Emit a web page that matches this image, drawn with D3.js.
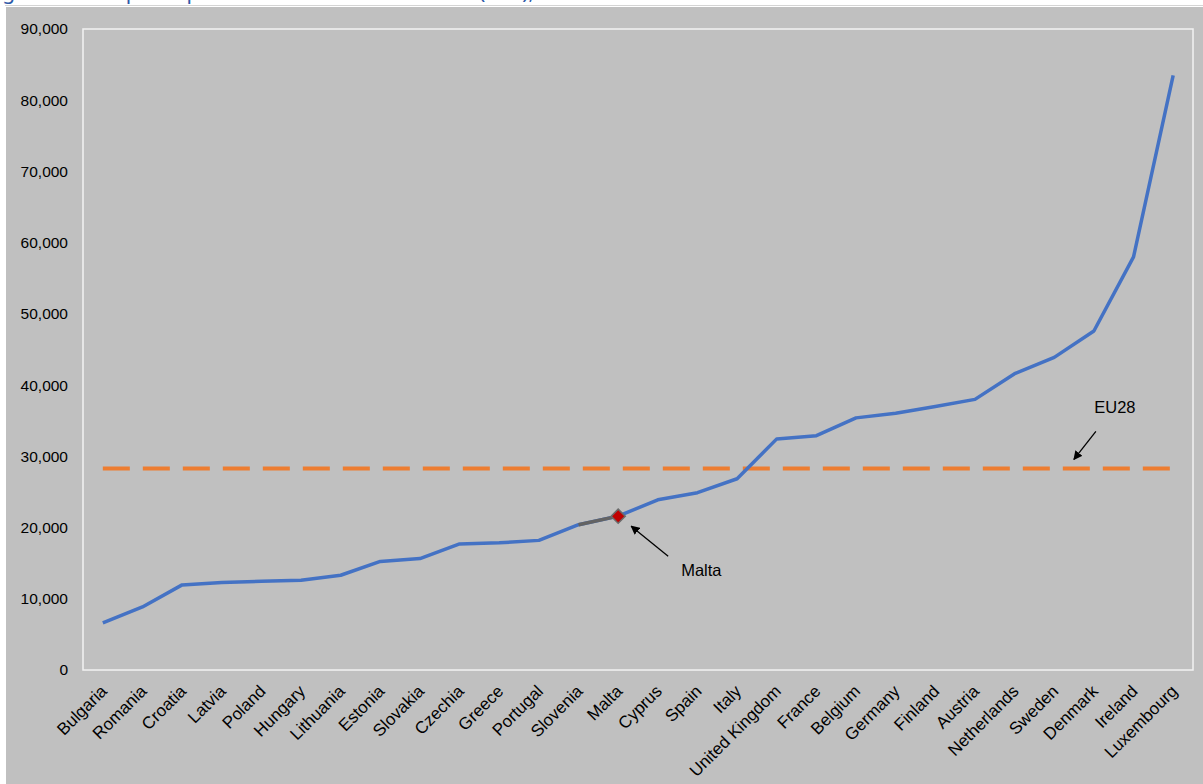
<!DOCTYPE html>
<html>
<head>
<meta charset="utf-8">
<script src="https://cdn.jsdelivr.net/npm/d3@7"></script>
<style>
  html, body { margin: 0; padding: 0; background: #ffffff; }
  svg { display: block; }
</style>
</head>
<body>
<svg id="chart" width="1203" height="784"></svg>
<script>
// GDP per capita (PPS) by Member State, ranked low to high
const countries = ["Bulgaria","Romania","Croatia","Latvia","Poland","Hungary","Lithuania","Estonia",
  "Slovakia","Czechia","Greece","Portugal","Slovenia","Malta","Cyprus","Spain","Italy",
  "United Kingdom","France","Belgium","Germany","Finland","Austria","Netherlands","Sweden",
  "Denmark","Ireland","Luxembourg"];
const gdpPerCapita = [6600, 8850, 11950, 12300, 12450, 12600, 13300, 15250,
  15650, 17700, 17850, 18200, 20400, 21600, 23900, 24900, 26850,
  32450, 32900, 35400, 36050, 37000, 38000, 41600, 43900,
  47600, 58000, 83500];
const eu28Average = 28300;
const yTicks = [0, 10000, 20000, 30000, 40000, 50000, 60000, 70000, 80000, 90000];
const highlighted = "Malta";
const titleText = "Figure 2: GDP per capita in the EU Member States (PPS), 2018";

const svg = d3.select("#chart");
const W = 1203, H = 784;
const plot = { left: 83, right: 1193, top: 29, bottom: 670 };
const font = "'Liberation Sans', Arial, sans-serif";

// page title, running above the top of the frame
svg.append("text")
  .attr("x", -14).attr("y", -1.5)
  .attr("font-family", "'Noto Sans', sans-serif")
  .attr("font-size", 21)
  .attr("fill", "#2f5aa8")
  .text(titleText);

svg.append("line")
  .attr("x1", 5).attr("x2", W).attr("y1", 5.5).attr("y2", 5.5)
  .attr("stroke", "#d4d4d4").attr("stroke-width", 1);

// chart background
svg.append("rect")
  .attr("x", 6).attr("y", 7).attr("width", W - 6).attr("height", H - 7)
  .attr("fill", "#c0c0c0");

svg.append("rect")
  .attr("x", plot.left).attr("y", plot.top)
  .attr("width", plot.right - plot.left).attr("height", plot.bottom - plot.top)
  .attr("fill", "#c0c0c0").attr("stroke", "#f2f2f2").attr("stroke-width", 1.5);

const x = d3.scaleBand().domain(countries).range([plot.left, plot.right]).padding(0);
const cx = c => x(c) + x.bandwidth() / 2;
const y = d3.scaleLinear().domain([0, 90000]).range([plot.bottom, plot.top]);

// y axis
const yAxis = svg.append("g")
  .attr("transform", `translate(${plot.left},0)`)
  .call(d3.axisLeft(y).tickValues(yTicks).tickSize(0).tickPadding(15).tickFormat(d3.format(",")));
yAxis.select(".domain").remove();
yAxis.selectAll("text")
  .attr("font-family", font).attr("font-size", 15.5).attr("fill", "#000");

// x axis labels, rotated
svg.append("g").selectAll("text")
  .data(countries)
  .join("text")
  .attr("transform", c => `translate(${cx(c) + 1},${plot.bottom + 18}) rotate(-45)`)
  .attr("text-anchor", "end")
  .attr("dy", "0.35em")
  .attr("font-family", font).attr("font-size", 17).attr("fill", "#000")
  .text(c => c);

// EU28 reference line
svg.append("line")
  .attr("x1", cx(countries[0])).attr("x2", cx(countries[countries.length - 1]))
  .attr("y1", y(eu28Average)).attr("y2", y(eu28Average))
  .attr("stroke", "#ed7d31").attr("stroke-width", 4)
  .attr("stroke-dasharray", "27,13");

const data = countries.map((c, i) => ({ c, v: gdpPerCapita[i] }));
const line = d3.line().x(d => cx(d.c)).y(d => y(d.v));

svg.append("path")
  .datum(data)
  .attr("d", line)
  .attr("fill", "none")
  .attr("stroke", "#4472c4").attr("stroke-width", 3.5)
  .attr("stroke-linejoin", "round");

// segment leading into the highlighted country
const hi = countries.indexOf(highlighted);
svg.append("path")
  .datum(data.slice(hi - 1, hi + 1))
  .attr("d", line)
  .attr("fill", "none")
  .attr("stroke", "#636363").attr("stroke-width", 3.5);

svg.append("path")
  .attr("d", d3.symbol().type(d3.symbolSquare).size(100)())
  .attr("transform", `translate(${cx(highlighted)},${y(gdpPerCapita[hi])}) rotate(45)`)
  .attr("fill", "#c00000").attr("stroke", "#6b6b6b").attr("stroke-width", 1.5);

// arrow heads
svg.append("defs").append("marker")
  .attr("id", "arrow")
  .attr("viewBox", "0 0 10 10").attr("refX", 9).attr("refY", 5)
  .attr("markerWidth", 9).attr("markerHeight", 9)
  .attr("markerUnits", "userSpaceOnUse")
  .attr("orient", "auto")
  .append("path").attr("d", "M0,0 L10,5 L0,10 z").attr("fill", "#000");

// Malta annotation
const mx = cx(highlighted), my = y(gdpPerCapita[hi]);
svg.append("line")
  .attr("x1", mx + 50).attr("y1", my + 40)
  .attr("x2", mx + 13).attr("y2", my + 10)
  .attr("stroke", "#000").attr("stroke-width", 1.3)
  .attr("marker-end", "url(#arrow)");
svg.append("text")
  .attr("x", mx + 63).attr("y", my + 54)
  .attr("dy", "0.35em")
  .attr("font-family", font).attr("font-size", 16.5).attr("fill", "#000")
  .text("Malta");

// EU28 annotation
const ex = cx("Denmark"), ey = y(eu28Average);
svg.append("line")
  .attr("x1", ex + 2).attr("y1", ey - 37)
  .attr("x2", ex - 20).attr("y2", ey - 9)
  .attr("stroke", "#000").attr("stroke-width", 1.3)
  .attr("marker-end", "url(#arrow)");
svg.append("text")
  .attr("x", ex + 21).attr("y", ey - 61)
  .attr("dy", "0.35em")
  .attr("text-anchor", "middle")
  .attr("font-family", font).attr("font-size", 16.5).attr("fill", "#000")
  .text("EU28");
</script>
</body>
</html>
